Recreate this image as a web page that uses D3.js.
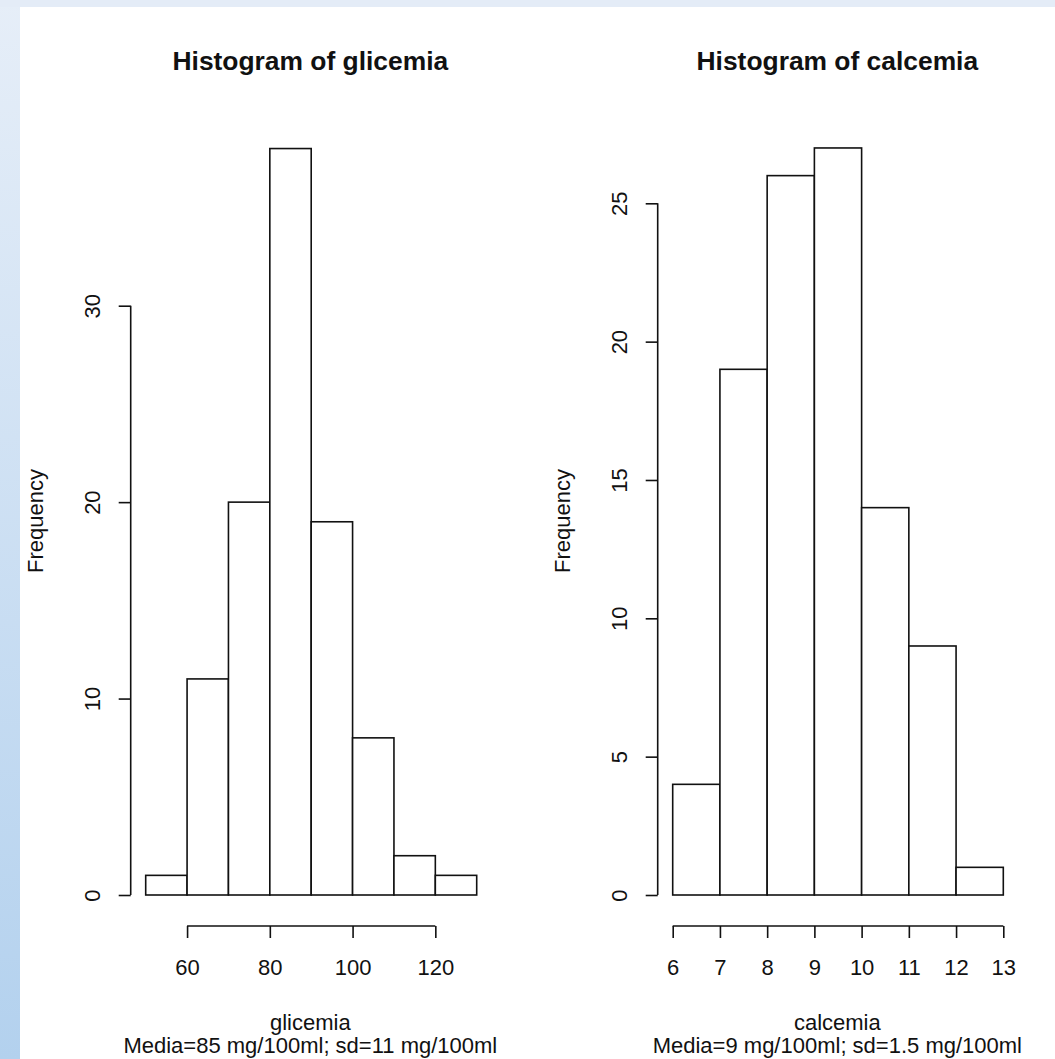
<!DOCTYPE html>
<html>
<head>
<meta charset="utf-8">
<script src="https://cdn.jsdelivr.net/npm/d3@7/dist/d3.min.js"></script>
<style>
  html, body { margin: 0; padding: 0; background: #fff; }
  svg { display: block; }
  text { font-family: "Liberation Sans", Arial, sans-serif; fill: #111; }
</style>
</head>
<body>
<svg id="chart" width="1055" height="1059"></svg>
<script>
// Glicemia histogram: bin edges (mg/100ml) and counts
const glicemiaBreaks = [50, 60, 70, 80, 90, 100, 110, 120, 130];
const glicemiaCounts = [1, 11, 20, 38, 19, 8, 2, 1];
const glicemiaXTicks = [60, 80, 100, 120];
const glicemiaYTicks = [0, 10, 20, 30];

// Calcemia histogram: bin edges (mg/100ml) and counts
const calcemiaBreaks = [6, 7, 8, 9, 10, 11, 12, 13];
const calcemiaCounts = [4, 19, 26, 27, 14, 9, 1];
const calcemiaXTicks = [6, 7, 8, 9, 10, 11, 12, 13];
const calcemiaYTicks = [0, 5, 10, 15, 20, 25];

const panels = [
  {
    title: "Histogram of glicemia",
    xlab: "glicemia",
    sub: "Media=85 mg/100ml; sd=11 mg/100ml",
    breaks: glicemiaBreaks, counts: glicemiaCounts,
    xTicks: glicemiaXTicks, yTicks: glicemiaYTicks,
    xDomain: [50, 130], xRange: [145.7, 476.7],
    yDomain: [0, 30], yRange: [895, 305.7],
    region: [130.7, 490]
  },
  {
    title: "Histogram of calcemia",
    xlab: "calcemia",
    sub: "Media=9 mg/100ml; sd=1.5 mg/100ml",
    breaks: calcemiaBreaks, counts: calcemiaCounts,
    xTicks: calcemiaXTicks, yTicks: calcemiaYTicks,
    xDomain: [6, 13], xRange: [672.7, 1003.3],
    yDomain: [0, 25], yRange: [895, 203.3],
    region: [657.7, 1017]
  }
];

const svg = d3.select("#chart");

// page backdrop: pale blue frame with a vertical gradient on the left strip
const defs = svg.append("defs");
const grad = defs.append("linearGradient")
  .attr("id", "sideGrad").attr("x1", 0).attr("y1", 0).attr("x2", 0).attr("y2", 1);
grad.append("stop").attr("offset", "0%").attr("stop-color", "#e6eef8");
grad.append("stop").attr("offset", "100%").attr("stop-color", "#b3d1ee");

svg.append("rect").attr("x", 0).attr("y", 0).attr("width", 1055).attr("height", 1059)
  .attr("fill", "url(#sideGrad)");
svg.append("rect").attr("x", 0).attr("y", 0).attr("width", 1055).attr("height", 7)
  .attr("fill", "#e4ecf7");
svg.append("rect").attr("x", 20).attr("y", 7).attr("width", 1035).attr("height", 1052)
  .attr("fill", "#ffffff");

const STROKE = "#111";
const LW = 1.6;
const baseFont = 22;

panels.forEach(p => {
  const x = d3.scaleLinear().domain(p.xDomain).range(p.xRange);
  const y = d3.scaleLinear().domain(p.yDomain).range(p.yRange);
  const g = svg.append("g");
  const axisX = p.region[0];       // y axis sits on the plot region's left edge
  const axisY = 926;               // x axis sits on the plot region's bottom edge
  const cx = (p.region[0] + p.region[1]) / 2;

  // bars
  const bins = p.counts.map((c, i) => ({ x0: p.breaks[i], x1: p.breaks[i + 1], n: c }));
  g.selectAll("rect.bar").data(bins).join("rect")
    .attr("class", "bar")
    .attr("x", d => x(d.x0))
    .attr("y", d => y(d.n))
    .attr("width", d => x(d.x1) - x(d.x0))
    .attr("height", d => y(0) - y(d.n))
    .attr("fill", "#fff")
    .attr("stroke", STROKE)
    .attr("stroke-width", LW);

  // y axis
  const ya = g.append("g").attr("transform", `translate(${axisX},0)`)
    .call(d3.axisLeft(y).tickValues(p.yTicks).tickSize(12).tickFormat(d3.format("d")));
  ya.select(".domain").remove();
  ya.selectAll(".tick line").attr("stroke", STROKE).attr("stroke-width", LW);
  ya.selectAll(".tick text")
    .attr("transform", "rotate(-90)")
    .attr("x", 0).attr("y", -30.7).attr("dy", 0)
    .attr("text-anchor", "middle")
    .style("font-size", baseFont + "px")
    .attr("fill", "#111");
  ya.append("line")
    .attr("x1", 0).attr("x2", 0)
    .attr("y1", y(p.yTicks[0])).attr("y2", y(p.yTicks[p.yTicks.length - 1]))
    .attr("stroke", STROKE).attr("stroke-width", LW);

  // x axis
  const xa = g.append("g").attr("transform", `translate(0,${axisY})`)
    .call(d3.axisBottom(x).tickValues(p.xTicks).tickSize(12).tickFormat(d3.format("d")));
  xa.select(".domain").remove();
  xa.selectAll(".tick line").attr("stroke", STROKE).attr("stroke-width", LW);
  xa.selectAll(".tick text")
    .attr("y", 49).attr("dy", 0)
    .style("font-size", baseFont + "px")
    .attr("fill", "#111");
  xa.append("line")
    .attr("y1", 0).attr("y2", 0)
    .attr("x1", x(p.xTicks[0])).attr("x2", x(p.xTicks[p.xTicks.length - 1]))
    .attr("stroke", STROKE).attr("stroke-width", LW);

  // titles and labels
  g.append("text").attr("x", cx).attr("y", 70)
    .attr("text-anchor", "middle")
    .style("font-size", (baseFont * 1.2) + "px").style("font-weight", "bold")
    .text(p.title);
  g.append("text").attr("x", cx).attr("y", 1030)
    .attr("text-anchor", "middle").style("font-size", baseFont + "px")
    .text(p.xlab);
  g.append("text").attr("x", cx).attr("y", 1053)
    .attr("text-anchor", "middle").style("font-size", baseFont + "px")
    .text(p.sub);
  g.append("text")
    .attr("transform", `translate(${axisX - 87.7},521) rotate(-90)`)
    .attr("text-anchor", "middle").style("font-size", baseFont + "px")
    .text("Frequency");
});
</script>
</body>
</html>
